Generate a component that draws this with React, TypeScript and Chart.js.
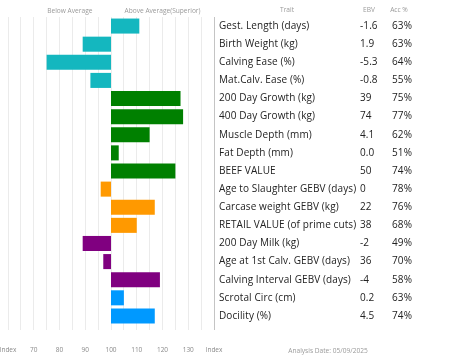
import React, { useEffect, useRef } from "react";
import { Chart, registerables } from "chart.js";

Chart.register(...registerables);

const traits = [
  "Gest. Length (days)",
  "Birth Weight (kg)",
  "Calving Ease (%)",
  "Mat.Calv. Ease (%)",
  "200 Day Growth (kg)",
  "400 Day Growth (kg)",
  "Muscle Depth (mm)",
  "Fat Depth (mm)",
  "BEEF VALUE",
  "Age to Slaughter GEBV (days)",
  "Carcase weight GEBV (kg)",
  "RETAIL VALUE (of prime cuts)",
  "200 Day Milk (kg)",
  "Age at 1st Calv. GEBV (days)",
  "Calving Interval GEBV (days)",
  "Scrotal Circ (cm)",
  "Docility (%)",
];
const ebv = ["-1.6", "1.9", "-5.3", "-0.8", "39", "74", "4.1", "0.0", "50", "0", "22", "38", "-2", "36", "-4", "0.2", "4.5"];
const acc = ["63%", "63%", "64%", "55%", "75%", "77%", "62%", "51%", "74%", "78%", "76%", "68%", "49%", "70%", "58%", "63%", "74%"];
const indexValues = [111, 89, 75, 92, 127, 128, 115, 103, 125, 96, 117, 110, 89, 97, 119, 105, 117];
const groups = ["calving", "calving", "calving", "calving", "growth", "growth", "growth", "growth", "growth", "carcase", "carcase", "carcase", "maternal", "maternal", "maternal", "other", "other"];
const groupColors: Record<string, string> = {
  calving: "#14b7bf",
  growth: "#008000",
  carcase: "#ff9900",
  maternal: "#800080",
  other: "#0099ff",
};
const xTicks = [60, 70, 80, 90, 100, 110, 120, 130, 140];
const baseIndex = 100;
const analysisDate = "Analysis Date: 05/09/2025";

const FONT = "'Open Sans', sans-serif";

const tablePlugin = {
  id: "tableText",
  afterDraw(chart: any) {
    const { ctx, scales } = chart;
    const y = scales.y;
    const x = scales.x;
    ctx.save();
    ctx.fillStyle = "#9a9a9a";
    ctx.font = `6.6px ${FONT}`;
    ctx.textAlign = "center";
    ctx.textBaseline = "middle";
    ctx.fillText("Below Average", x.getPixelForValue(84), 11);
    ctx.fillText("Above Average(Superior)", x.getPixelForValue(120), 11);
    ctx.fillText("Trait", 287, 10);
    ctx.fillText("EBV", 369, 10);
    ctx.fillText("Acc %", 399, 10);
    ctx.fillText(analysisDate, 328, 351);
    ctx.fillStyle = "#222222";
    ctx.font = `10px ${FONT}`;
    try { (ctx as any).letterSpacing = "0.1px"; } catch (e) {}
    ctx.textAlign = "left";
    traits.forEach((t, i) => {
      const py = y.getPixelForValue(i);
      ctx.fillText(t, 219, py);
      ctx.fillText(ebv[i], 360, py);
      ctx.fillText(acc[i], 392, py);
    });
    ctx.restore();
  },
};

export default function App() {
  const ref = useRef<HTMLCanvasElement>(null);
  useEffect(() => {
    if (!ref.current) return;
    const chart = new Chart(ref.current, {
      type: "bar",
      data: {
        labels: traits,
        datasets: [
          {
            data: indexValues.map((v) => [baseIndex, v]) as any,
            backgroundColor: groups.map((g) => groupColors[g]),
            borderWidth: 0,
            barPercentage: 0.83,
            categoryPercentage: 1,
          },
        ],
      },
      options: {
        indexAxis: "y",
        responsive: false,
        animation: false,
        layout: { padding: { left: 8, right: 239, top: 17, bottom: 0 } },
        plugins: { legend: { display: false }, tooltip: { enabled: false } },
        scales: {
          x: {
            type: "linear",
            min: 60,
            max: 140,
            afterBuildTicks: (scale: any) => {
              const t = [];
              for (let v = 60; v <= 140; v += 5) t.push({ value: v });
              scale.ticks = t;
            },
            afterFit: (scale: any) => {
              scale.paddingLeft = 0;
              scale.paddingRight = 0;
              scale.height = 37;
            },
            ticks: {
              autoSkip: false,
              maxRotation: 0,
              padding: 16,
              color: "#8a8a8a",
              font: { size: 6.5, family: FONT },
              callback: (v: any) => {
                if (v === xTicks[0] || v === xTicks[xTicks.length - 1]) return "Index";
                return xTicks.includes(v) ? String(v) : "";
              },
            },
            grid: {
              color: (c: any) => (c.tick && c.tick.value === 140 ? "#c4c4c4" : "#ebebeb"),
              drawTicks: true,
              tickLength: 5,
            },
            border: { display: false },
          },
          y: {
            type: "category",
            display: false,
            grid: { display: false },
          },
        },
      },
      plugins: [tablePlugin],
    });
    return () => chart.destroy();
  }, []);
  return (
    <div style={{ position: "fixed", left: 0, top: 0, width: 453, height: 362, background: "#fff" }}>
      <canvas ref={ref} width={453} height={362} />
    </div>
  );
}
